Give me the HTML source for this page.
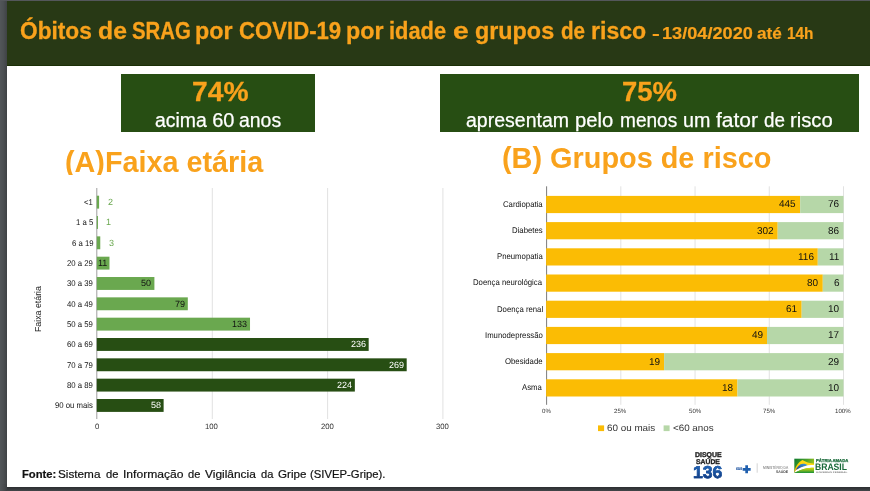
<!DOCTYPE html>
<html lang="pt-BR"><head><meta charset="utf-8"><title>Óbitos de SRAG por COVID-19</title>
<style>
html,body{margin:0;padding:0;}
body{width:870px;height:491px;overflow:hidden;background:#fff;font-family:"Liberation Sans",sans-serif;position:relative;}
.t{position:absolute;white-space:pre;line-height:1;transform-origin:0 0;}
.r{position:absolute;}
.frame{position:absolute;}
</style></head><body>
<svg width="870" height="491" viewBox="0 0 870 491" style="position:absolute;left:0;top:0">
<rect x="7.00" y="1.00" width="863.00" height="65.00" fill="#283915"/>
<rect x="7.00" y="65.00" width="863.00" height="1.00" fill="#1b2f06"/>
<rect x="121.00" y="74.00" width="194.00" height="58.00" fill="#274e13"/>
<rect x="440.00" y="74.00" width="419.00" height="58.00" fill="#274e13"/>
<rect x="211.80" y="188.00" width="1.00" height="231.00" fill="#e2e2e2"/>
<rect x="327.10" y="188.00" width="1.00" height="231.00" fill="#e2e2e2"/>
<rect x="442.40" y="188.00" width="1.00" height="231.00" fill="#e2e2e2"/>
<rect x="96.30" y="188.00" width="1.00" height="231.00" fill="#9e9e9e"/>
<rect x="96.80" y="195.70" width="2.30" height="12.90" fill="#6aa84f"/>
<rect x="96.80" y="216.03" width="1.15" height="12.90" fill="#6aa84f"/>
<rect x="96.80" y="236.36" width="3.46" height="12.90" fill="#6aa84f"/>
<rect x="96.80" y="256.69" width="12.67" height="12.90" fill="#6aa84f"/>
<rect x="96.80" y="277.02" width="57.60" height="12.90" fill="#6aa84f"/>
<rect x="96.80" y="297.35" width="91.01" height="12.90" fill="#6aa84f"/>
<rect x="96.80" y="317.68" width="153.22" height="12.90" fill="#6aa84f"/>
<rect x="96.80" y="338.01" width="271.87" height="12.90" fill="#274e13"/>
<rect x="96.80" y="358.34" width="309.89" height="12.90" fill="#274e13"/>
<rect x="96.80" y="378.67" width="258.05" height="12.90" fill="#274e13"/>
<rect x="96.80" y="399.00" width="66.82" height="12.90" fill="#274e13"/>
<rect x="620.33" y="186.30" width="1.00" height="218.50" fill="#e2e2e2"/>
<rect x="694.55" y="186.30" width="1.00" height="218.50" fill="#e2e2e2"/>
<rect x="768.77" y="186.30" width="1.00" height="218.50" fill="#e2e2e2"/>
<rect x="843.00" y="186.30" width="1.00" height="218.50" fill="#e2e2e2"/>
<rect x="546.10" y="186.30" width="1.00" height="218.50" fill="#7c7c7c"/>
<rect x="546.10" y="195.90" width="254.09" height="17.20" fill="#fbbc04"/>
<rect x="800.19" y="195.90" width="43.31" height="17.20" fill="#b6d7a8"/>
<rect x="546.10" y="222.10" width="231.59" height="17.20" fill="#fbbc04"/>
<rect x="777.69" y="222.10" width="65.81" height="17.20" fill="#b6d7a8"/>
<rect x="546.10" y="248.30" width="271.68" height="17.20" fill="#fbbc04"/>
<rect x="817.78" y="248.30" width="25.72" height="17.20" fill="#b6d7a8"/>
<rect x="546.10" y="274.50" width="276.69" height="17.20" fill="#fbbc04"/>
<rect x="822.79" y="274.50" width="20.71" height="17.20" fill="#b6d7a8"/>
<rect x="546.10" y="300.70" width="255.58" height="17.20" fill="#fbbc04"/>
<rect x="801.68" y="300.70" width="41.82" height="17.20" fill="#b6d7a8"/>
<rect x="546.10" y="326.90" width="220.93" height="17.20" fill="#fbbc04"/>
<rect x="767.03" y="326.90" width="76.47" height="17.20" fill="#b6d7a8"/>
<rect x="546.10" y="353.10" width="118.02" height="17.20" fill="#fbbc04"/>
<rect x="664.12" y="353.10" width="179.38" height="17.20" fill="#b6d7a8"/>
<rect x="546.10" y="379.30" width="191.36" height="17.20" fill="#fbbc04"/>
<rect x="737.46" y="379.30" width="106.04" height="17.20" fill="#b6d7a8"/>
<rect x="598.00" y="425.40" width="6.10" height="5.70" fill="#fbbc04"/>
<rect x="663.60" y="425.40" width="6.00" height="5.70" fill="#b6d7a8"/>
<path d="M745.3 465.3h2.7v2.65h2.65v2.7h-2.65v2.6h-2.7v-2.6h-2.65v-2.7h2.65z" fill="#1f5fae"/>
<rect x="756.70" y="463.30" width="0.90" height="9.40" fill="#cfcfcf"/>
<defs>
<linearGradient id="fg1" x1="0" y1="0" x2="1" y2="0.55"><stop offset="0" stop-color="#0c7a2d"/><stop offset=".55" stop-color="#4fa32a"/><stop offset="1" stop-color="#bccf17"/></linearGradient>
<linearGradient id="fg2" x1="0" y1="1" x2="0.6" y2="0"><stop offset="0" stop-color="#f6a800"/><stop offset=".5" stop-color="#ffd000"/><stop offset="1" stop-color="#ffdf1a"/></linearGradient>
<linearGradient id="fg3" x1="0" y1="1" x2="1" y2="0"><stop offset="0" stop-color="#173f92"/><stop offset="1" stop-color="#3fa0dc"/></linearGradient>
<linearGradient id="fg4" x1="0" y1="0" x2="0" y2="1"><stop offset="0" stop-color="#e3dc00"/><stop offset=".45" stop-color="#8dbd1c"/><stop offset="1" stop-color="#16903a"/></linearGradient>
</defs>
<g transform="translate(790 454) scale(0.046875)">
<rect x="92" y="100" width="420" height="305" fill="url(#fg1)"/>
<path d="M92 392C104 282 178 170 265 128C330 168 420 202 512 206L512 275C400 272 250 300 92 392Z" fill="url(#fg2)"/>
<path d="M130 342C150 276 208 214 276 210C322 209 358 224 380 241C290 262 190 305 130 342Z" fill="url(#fg3)"/>
<path d="M512 233C470 233 430 235 380 241C290 262 190 305 130 342L94 396L100 402C250 314 400 290 512 293Z" fill="#fff"/>
<path d="M100 405L100 398C250 316 400 292 512 292L512 405Z" fill="url(#fg4)"/>
</g>
</svg>
<span class="t" style="left:19.79px;top:19.50px;font-size:23.60px;font-weight:700;color:#f9a21c;transform:scaleX(0.9615);-webkit-text-stroke:.3px #f9a21c;">Óbitos</span>
<span class="t" style="left:98.01px;top:19.50px;font-size:23.60px;font-weight:700;color:#f9a21c;transform:scaleX(1.0496);-webkit-text-stroke:.3px #f9a21c;">de</span>
<span class="t" style="left:131.69px;top:19.50px;font-size:23.60px;font-weight:700;color:#f9a21c;transform:scaleX(0.8641);-webkit-text-stroke:.3px #f9a21c;">SRAG</span>
<span class="t" style="left:195.19px;top:19.50px;font-size:23.60px;font-weight:700;color:#f9a21c;transform:scaleX(0.9859);-webkit-text-stroke:.3px #f9a21c;">por</span>
<span class="t" style="left:238.61px;top:19.50px;font-size:23.60px;font-weight:700;color:#f9a21c;transform:scaleX(0.9390);-webkit-text-stroke:.3px #f9a21c;">COVID-19</span>
<span class="t" style="left:346.19px;top:19.50px;font-size:23.60px;font-weight:700;color:#f9a21c;transform:scaleX(0.9859);-webkit-text-stroke:.3px #f9a21c;">por</span>
<span class="t" style="left:389.47px;top:19.50px;font-size:23.60px;font-weight:700;color:#f9a21c;transform:scaleX(0.9253);-webkit-text-stroke:.3px #f9a21c;">idade</span>
<span class="t" style="left:452.57px;top:19.50px;font-size:23.60px;font-weight:700;color:#f9a21c;transform:scaleX(1.2006);-webkit-text-stroke:.3px #f9a21c;">e</span>
<span class="t" style="left:475.07px;top:19.50px;font-size:23.60px;font-weight:700;color:#f9a21c;transform:scaleX(0.9896);-webkit-text-stroke:.3px #f9a21c;">grupos</span>
<span class="t" style="left:560.67px;top:19.50px;font-size:23.60px;font-weight:700;color:#f9a21c;transform:scaleX(0.8747);-webkit-text-stroke:.3px #f9a21c;">de</span>
<span class="t" style="left:590.80px;top:19.50px;font-size:23.60px;font-weight:700;color:#f9a21c;transform:scaleX(0.9773);-webkit-text-stroke:.3px #f9a21c;">risco</span>
<span class="t" style="left:651.76px;top:25.05px;font-size:16.50px;font-weight:700;color:#f9a21c;transform:scaleX(1.4260);-webkit-text-stroke:.2px #f9a21c;">-</span>
<span class="t" style="left:662.21px;top:25.05px;font-size:16.50px;font-weight:700;color:#f9a21c;transform:scaleX(1.0997);-webkit-text-stroke:.2px #f9a21c;">13/04/2020</span>
<span class="t" style="left:757.48px;top:25.05px;font-size:16.50px;font-weight:700;color:#f9a21c;transform:scaleX(1.0408);-webkit-text-stroke:.2px #f9a21c;">até</span>
<span class="t" style="left:786.78px;top:25.05px;font-size:16.50px;font-weight:700;color:#f9a21c;transform:scaleX(0.9318);-webkit-text-stroke:.2px #f9a21c;">14h</span>
<span class="t" style="left:191.97px;top:77.05px;font-size:28.50px;font-weight:700;color:#f9a21c;transform:scaleX(0.9901);-webkit-text-stroke:.3px #f9a21c;">74%</span>
<span class="t" style="left:155.32px;top:110.30px;font-size:20.00px;color:#fff;transform:scaleX(0.9714);-webkit-text-stroke:.25px #fff;">acima</span>
<span class="t" style="left:212.20px;top:110.30px;font-size:20.00px;color:#fff;-webkit-text-stroke:.25px #fff;">60</span>
<span class="t" style="left:238.52px;top:110.30px;font-size:20.00px;color:#fff;transform:scaleX(0.9714);-webkit-text-stroke:.25px #fff;">anos</span>
<span class="t" style="left:622.00px;top:77.05px;font-size:28.50px;font-weight:700;color:#f9a21c;transform:scaleX(0.9629);-webkit-text-stroke:.3px #f9a21c;">75%</span>
<span class="t" style="left:466.12px;top:110.30px;font-size:20.00px;color:#fff;transform:scaleX(0.9759);-webkit-text-stroke:.25px #fff;">apresentam</span>
<span class="t" style="left:575.49px;top:110.30px;font-size:20.00px;color:#fff;transform:scaleX(1.0112);-webkit-text-stroke:.25px #fff;">pelo</span>
<span class="t" style="left:620.26px;top:110.30px;font-size:20.00px;color:#fff;transform:scaleX(0.9534);-webkit-text-stroke:.25px #fff;">menos</span>
<span class="t" style="left:683.22px;top:110.30px;font-size:20.00px;color:#fff;transform:scaleX(0.9841);-webkit-text-stroke:.25px #fff;">um</span>
<span class="t" style="left:715.88px;top:110.30px;font-size:20.00px;color:#fff;transform:scaleX(1.0508);-webkit-text-stroke:.25px #fff;">fator</span>
<span class="t" style="left:763.75px;top:110.30px;font-size:20.00px;color:#fff;transform:scaleX(0.9415);-webkit-text-stroke:.25px #fff;">de</span>
<span class="t" style="left:790.18px;top:110.30px;font-size:20.00px;color:#fff;transform:scaleX(1.0125);-webkit-text-stroke:.25px #fff;">risco</span>
<span class="t" style="left:64.56px;top:147.85px;font-size:28.90px;font-weight:700;color:#f9a21c;transform:scaleX(0.9951);">(A)Faixa etária</span>
<div class="r" style="left:20.00px;top:175.00px;width:440.00px;height:12.00px;background:#fff;"></div>
<span class="t" style="left:501.66px;top:143.85px;font-size:28.90px;font-weight:700;color:#f9a21c;transform:scaleX(0.9990);">(B) Grupos de risco</span>
<span class="t" style="left:84.30px;top:198.15px;font-size:8.30px;color:#111;transform:rotate(.04deg) scaleX(0.9350);">&lt;1</span>
<span class="t" style="left:107.85px;top:197.80px;font-size:9.00px;color:#6aa84f;transform:rotate(.04deg);">2</span>
<span class="t" style="left:75.84px;top:218.15px;font-size:8.30px;color:#111;transform:rotate(.04deg) scaleX(0.9350);">1 a 5</span>
<span class="t" style="left:106.48px;top:217.80px;font-size:9.00px;color:#6aa84f;transform:rotate(.04deg);">1</span>
<span class="t" style="left:71.58px;top:239.15px;font-size:8.30px;color:#111;transform:rotate(.04deg) scaleX(0.9350);">6 a 19</span>
<span class="t" style="left:109.10px;top:238.80px;font-size:9.00px;color:#6aa84f;transform:rotate(.04deg);">3</span>
<span class="t" style="left:67.27px;top:259.15px;font-size:8.30px;color:#111;transform:rotate(.04deg) scaleX(0.9350);">20 a 29</span>
<span class="t" style="left:98.16px;top:258.80px;font-size:9.00px;color:#111;transform:rotate(.04deg);">11</span>
<span class="t" style="left:67.27px;top:279.15px;font-size:8.30px;color:#111;transform:rotate(.04deg) scaleX(0.9350);">30 a 39</span>
<span class="t" style="left:141.32px;top:278.80px;font-size:9.00px;color:#111;transform:rotate(.04deg);">50</span>
<span class="t" style="left:67.27px;top:300.15px;font-size:8.30px;color:#111;transform:rotate(.04deg) scaleX(0.9350);">40 a 49</span>
<span class="t" style="left:174.82px;top:299.80px;font-size:9.00px;color:#111;transform:rotate(.04deg);">79</span>
<span class="t" style="left:67.27px;top:320.15px;font-size:8.30px;color:#111;transform:rotate(.04deg) scaleX(0.9350);">50 a 59</span>
<span class="t" style="left:231.99px;top:319.80px;font-size:9.00px;color:#111;transform:rotate(.04deg);">133</span>
<span class="t" style="left:67.27px;top:340.15px;font-size:8.30px;color:#111;transform:rotate(.04deg) scaleX(0.9350);">60 a 69</span>
<span class="t" style="left:350.65px;top:339.80px;font-size:9.00px;color:#fff;transform:rotate(.04deg);">236</span>
<span class="t" style="left:67.27px;top:361.15px;font-size:8.30px;color:#111;transform:rotate(.04deg) scaleX(0.9350);">70 a 79</span>
<span class="t" style="left:388.71px;top:360.80px;font-size:9.00px;color:#fff;transform:rotate(.04deg);">269</span>
<span class="t" style="left:67.27px;top:381.15px;font-size:8.30px;color:#111;transform:rotate(.04deg) scaleX(0.9350);">80 a 89</span>
<span class="t" style="left:336.73px;top:380.80px;font-size:9.00px;color:#fff;transform:rotate(.04deg);">224</span>
<span class="t" style="left:55.12px;top:401.15px;font-size:8.30px;color:#111;transform:rotate(.04deg) scaleX(0.9350);">90 ou mais</span>
<span class="t" style="left:150.59px;top:400.80px;font-size:9.00px;color:#fff;transform:rotate(.04deg);">58</span>
<span class="t" style="left:94.53px;top:422.93px;font-size:7.75px;color:#333;transform:rotate(.04deg);">0</span>
<span class="t" style="left:205.25px;top:422.93px;font-size:7.75px;color:#333;transform:rotate(.04deg);">100</span>
<span class="t" style="left:320.75px;top:422.93px;font-size:7.75px;color:#333;transform:rotate(.04deg);">200</span>
<span class="t" style="left:436.12px;top:422.93px;font-size:7.75px;color:#333;transform:rotate(.04deg);">300</span>
<span class="t" style="left:33.60px;top:332.00px;font-size:8.8px;color:#222;transform:rotate(-90deg);">Faixa etária</span>
<span class="t" style="left:502.61px;top:200.15px;font-size:8.30px;color:#111;transform:rotate(.04deg) scaleX(0.9350);">Cardiopatia</span>
<span class="t" style="left:779.34px;top:198.80px;font-size:10.00px;color:#111;transform:rotate(.04deg);">445</span>
<span class="t" style="left:828.00px;top:198.80px;font-size:10.00px;color:#111;transform:rotate(.04deg);">76</span>
<span class="t" style="left:511.96px;top:226.15px;font-size:8.30px;color:#111;transform:rotate(.04deg) scaleX(0.9350);">Diabetes</span>
<span class="t" style="left:756.94px;top:225.80px;font-size:10.00px;color:#111;transform:rotate(.04deg);">302</span>
<span class="t" style="left:828.00px;top:225.80px;font-size:10.00px;color:#111;transform:rotate(.04deg);">86</span>
<span class="t" style="left:496.59px;top:252.15px;font-size:8.30px;color:#111;transform:rotate(.04deg) scaleX(0.9350);">Pneumopatia</span>
<span class="t" style="left:797.63px;top:251.80px;font-size:10.00px;color:#111;transform:rotate(.04deg);">116</span>
<span class="t" style="left:828.80px;top:251.80px;font-size:10.00px;color:#111;transform:rotate(.04deg);">11</span>
<span class="t" style="left:473.27px;top:278.15px;font-size:8.30px;color:#111;transform:rotate(.04deg) scaleX(0.9350);">Doença neurológica</span>
<span class="t" style="left:807.44px;top:277.80px;font-size:10.00px;color:#111;transform:rotate(.04deg);">80</span>
<span class="t" style="left:833.55px;top:277.80px;font-size:10.00px;color:#111;transform:rotate(.04deg);">6</span>
<span class="t" style="left:496.67px;top:305.15px;font-size:8.30px;color:#111;transform:rotate(.04deg) scaleX(0.9350);">Doença renal</span>
<span class="t" style="left:786.43px;top:303.80px;font-size:10.00px;color:#111;transform:rotate(.04deg);">61</span>
<span class="t" style="left:827.95px;top:303.80px;font-size:10.00px;color:#111;transform:rotate(.04deg);">10</span>
<span class="t" style="left:484.79px;top:331.15px;font-size:8.30px;color:#111;transform:rotate(.04deg) scaleX(0.9350);">Imunodepressão</span>
<span class="t" style="left:751.78px;top:329.80px;font-size:10.00px;color:#111;transform:rotate(.04deg);">49</span>
<span class="t" style="left:828.10px;top:329.80px;font-size:10.00px;color:#111;transform:rotate(.04deg);">17</span>
<span class="t" style="left:505.13px;top:357.15px;font-size:8.30px;color:#111;transform:rotate(.04deg) scaleX(0.9350);">Obesidade</span>
<span class="t" style="left:648.87px;top:356.80px;font-size:10.00px;color:#111;transform:rotate(.04deg);">19</span>
<span class="t" style="left:828.05px;top:356.80px;font-size:10.00px;color:#111;transform:rotate(.04deg);">29</span>
<span class="t" style="left:522.47px;top:383.15px;font-size:8.30px;color:#111;transform:rotate(.04deg) scaleX(0.9350);">Asma</span>
<span class="t" style="left:722.16px;top:382.80px;font-size:10.00px;color:#111;transform:rotate(.04deg);">18</span>
<span class="t" style="left:827.95px;top:382.80px;font-size:10.00px;color:#111;transform:rotate(.04deg);">10</span>
<span class="t" style="left:541.95px;top:407.75px;font-size:6.10px;color:#333;transform:rotate(.04deg);">0%</span>
<span class="t" style="left:614.42px;top:407.75px;font-size:6.10px;color:#333;transform:rotate(.04deg);">25%</span>
<span class="t" style="left:688.70px;top:407.75px;font-size:6.10px;color:#333;transform:rotate(.04deg);">50%</span>
<span class="t" style="left:762.87px;top:407.75px;font-size:6.10px;color:#333;transform:rotate(.04deg);">75%</span>
<span class="t" style="left:835.24px;top:407.75px;font-size:6.10px;color:#333;transform:rotate(.04deg);">100%</span>
<span class="t" style="left:607.21px;top:423.10px;font-size:9.40px;color:#333;transform:rotate(.04deg) scaleX(1.0517);">60 ou mais</span>
<span class="t" style="left:673.21px;top:423.10px;font-size:9.40px;color:#333;transform:rotate(.04deg) scaleX(1.0455);">&lt;60 anos</span>
<span class="t" style="left:22.07px;top:467.95px;font-size:11.70px;font-weight:700;color:#111;transform:scaleX(0.9612);-webkit-text-stroke:.2px #111;">Fonte:</span>
<span class="t" style="left:58.07px;top:467.95px;font-size:11.70px;color:#111;transform:scaleX(1.0045);-webkit-text-stroke:.2px #111;">Sistema</span>
<span class="t" style="left:106.15px;top:467.95px;font-size:11.70px;color:#111;transform:scaleX(0.9589);-webkit-text-stroke:.2px #111;">de</span>
<span class="t" style="left:122.51px;top:467.95px;font-size:11.70px;color:#111;transform:scaleX(1.0355);-webkit-text-stroke:.2px #111;">Informação</span>
<span class="t" style="left:188.16px;top:467.95px;font-size:11.70px;color:#111;transform:scaleX(0.9506);-webkit-text-stroke:.2px #111;">de</span>
<span class="t" style="left:204.64px;top:467.95px;font-size:11.70px;color:#111;transform:scaleX(1.0204);-webkit-text-stroke:.2px #111;">Vigilância</span>
<span class="t" style="left:261.26px;top:467.95px;font-size:11.70px;color:#111;transform:scaleX(0.9506);-webkit-text-stroke:.2px #111;">da</span>
<span class="t" style="left:277.82px;top:467.95px;font-size:11.70px;color:#111;transform:scaleX(0.9929);-webkit-text-stroke:.2px #111;">Gripe</span>
<span class="t" style="left:309.62px;top:467.95px;font-size:11.70px;color:#111;transform:scaleX(0.9682);-webkit-text-stroke:.2px #111;">(SIVEP-Gripe).</span>
<span class="t" style="left:694.95px;top:451.30px;font-size:7.00px;font-weight:700;color:#1f1f1f;transform:rotate(.04deg) scaleX(0.9920);-webkit-text-stroke:.35px #1f1f1f;">DISQUE</span>
<span class="t" style="left:696.40px;top:458.30px;font-size:7.00px;font-weight:700;color:#1f1f1f;transform:rotate(.04deg) scaleX(0.9732);-webkit-text-stroke:.35px #1f1f1f;">SAÚDE</span>
<span class="t" style="left:693.44px;top:463.70px;font-size:17.20px;font-weight:700;color:#174c9b;transform:rotate(.04deg) scaleX(1.0258);-webkit-text-stroke:.5px #174c9b;background:linear-gradient(180deg,#1f62b3 20%,#123b80 85%);-webkit-background-clip:text;background-clip:text;-webkit-text-fill-color:transparent;">136</span>
<span class="t" style="left:735.97px;top:465.80px;font-size:5.00px;font-weight:700;color:#174f9f;transform:rotate(.04deg) scaleX(0.7416);font-style:italic;-webkit-text-stroke:.1px #174f9f;">sus</span>
<span class="t" style="left:762.83px;top:465.60px;font-size:4.40px;color:#666;transform:rotate(.04deg) scaleX(0.7627);">MINISTÉRIO DA</span>
<span class="t" style="left:775.90px;top:471.45px;font-size:3.70px;font-weight:700;color:#444;transform:rotate(.04deg) scaleX(0.9442);">SAÚDE</span>
<span class="t" style="left:815.73px;top:458.65px;font-size:4.30px;font-weight:700;color:#1a6a3a;transform:rotate(.04deg) scaleX(0.9819);-webkit-text-stroke:.25px #1a6a3a;">PÁTRIA AMADA</span>
<span class="t" style="left:815.44px;top:462.10px;font-size:9.40px;font-weight:700;color:#1a6a3a;transform:rotate(.04deg) scaleX(0.9156);">BRASIL</span>
<span class="t" style="left:815.87px;top:471.25px;font-size:2.10px;font-weight:700;color:#777;transform:rotate(.04deg) scaleX(1.4940);">GOVERNO FEDERAL</span>

<div class="frame" style="left:0;top:0;width:7px;height:491px;background:linear-gradient(90deg,#525659 0%,#4b4f52 50%,#3f4245 100%);"></div>
<div class="frame" style="left:0;top:0;width:870px;height:1px;background:#54575b;"></div>
<div class="frame" style="left:0;top:487px;width:870px;height:4px;background:linear-gradient(180deg,#2c2e31 0%,#36383b 50%,#434649 100%);"></div>
<div class="frame" style="left:0;top:484px;width:7px;height:7px;background:linear-gradient(90deg,#525659 0%,#474a4d 60%,#3c3f42 100%);"></div>
</body></html>
